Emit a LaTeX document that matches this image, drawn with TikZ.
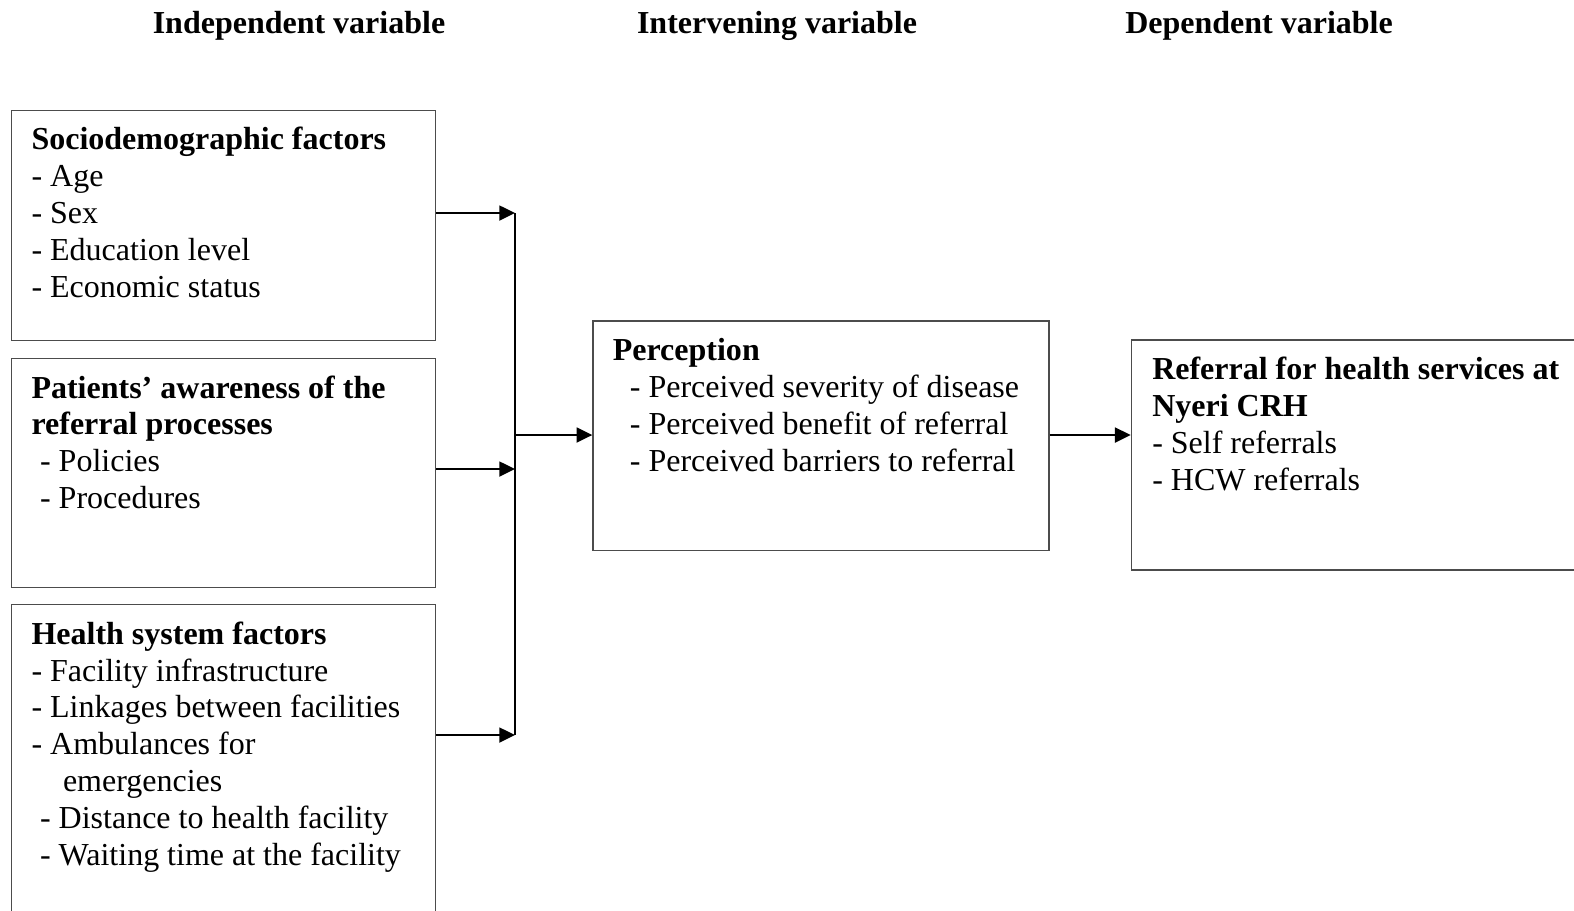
\documentclass[tikz,border=0pt]{standalone}
\usepackage{fontspec}
\setmainfont{Liberation Serif}
\usetikzlibrary{arrows.meta}

\tikzset{
    box/.style={draw=black!70, line width=0.5pt, anchor=north west, inner sep=0pt},
    boxtext/.style={anchor=north west, inner sep=0pt, align=left, font=\fontsize{12}{13.84}\selectfont},
    heading/.style={anchor=base, inner sep=0pt, font=\fontsize{12}{13.84}\selectfont\bfseries},
    arrow/.style={line width=0.75pt, -{Triangle[length=5.9pt,width=5.6pt]}},
}

\begin{document}
\begin{tikzpicture}[x=0.375pt, y=-0.375pt]
        \useasboundingbox (0,0) rectangle (1574,910);

        \node[heading] (indep) at (299,33.3) {Independent variable};
        \node[heading] (interv) at (777,33.3) {Intervening variable};
        \node[heading] (dep) at (1259,33.3) {Dependent variable};

        \node[box, minimum width=159pt, minimum height=86.25pt] (socio) at (11,109.5) {};
        \node[box, minimum width=159pt, minimum height=85.9pt] (aware) at (11,358) {};
        \node[box, minimum width=159pt, minimum height=126pt] (health) at (11,604) {};
        \node[box, minimum width=171pt, minimum height=86pt] (percep) at (592.3,320.2) {};
        \node[box, minimum width=176pt, minimum height=86.25pt] (refer) at (1130.7,339.3) {};

        \node[boxtext] (sociotext) at ([shift={(20,13.7)}]socio.north west)
            {\strut\textbf{Sociodemographic factors}\\- Age\\- Sex\\- Education level\\- Economic status};
        \node[boxtext] (awaretext) at ([shift={(20,13.7)}]aware.north west)
            {\strut\textbf{Patients’ awareness of the}\\\textbf{referral processes}\\\hspace*{3.2pt}- Policies\\\hspace*{3.2pt}- Procedures};
        \node[boxtext] (healthtext) at ([shift={(20,13.7)}]health.north west)
            {\strut\textbf{Health system factors}\\- Facility infrastructure\\- Linkages between facilities\\- Ambulances for\\\hspace*{11.8pt}emergencies\\\hspace*{3.2pt}- Distance to health facility\\\hspace*{3.2pt}- Waiting time at the facility};
        \node[boxtext] (perceptext) at ([shift={(20,13.7)}]percep.north west)
            {\strut\textbf{Perception}\\\hspace*{6.4pt}- Perceived severity of disease\\\hspace*{6.4pt}- Perceived benefit of referral\\\hspace*{6.4pt}- Perceived barriers to referral};
        \node[boxtext] (refertext) at ([shift={(21,13.7)}]refer.north west)
            {\strut\textbf{Referral for health services at}\\\textbf{Nyeri CRH}\\- Self referrals\\- HCW referrals};

        \coordinate (j1) at (515,213);
        \coordinate (j2) at (515,469);
        \coordinate (j3) at (515,735);
        \coordinate (jm) at (515,435);

        \draw[arrow] (socio.east |- j1) -- (j1);
        \draw[arrow] (aware.east |- j2) -- (j2);
        \draw[arrow] (health.east |- j3) -- (j3);
        \draw[line width=0.75pt] (j1) -- (j3);
        \draw[arrow] (jm) -- (percep.west |- jm);
        \draw[arrow] (percep.east |- jm) -- (refer.west |- jm);
    \end{tikzpicture}
\end{document}
